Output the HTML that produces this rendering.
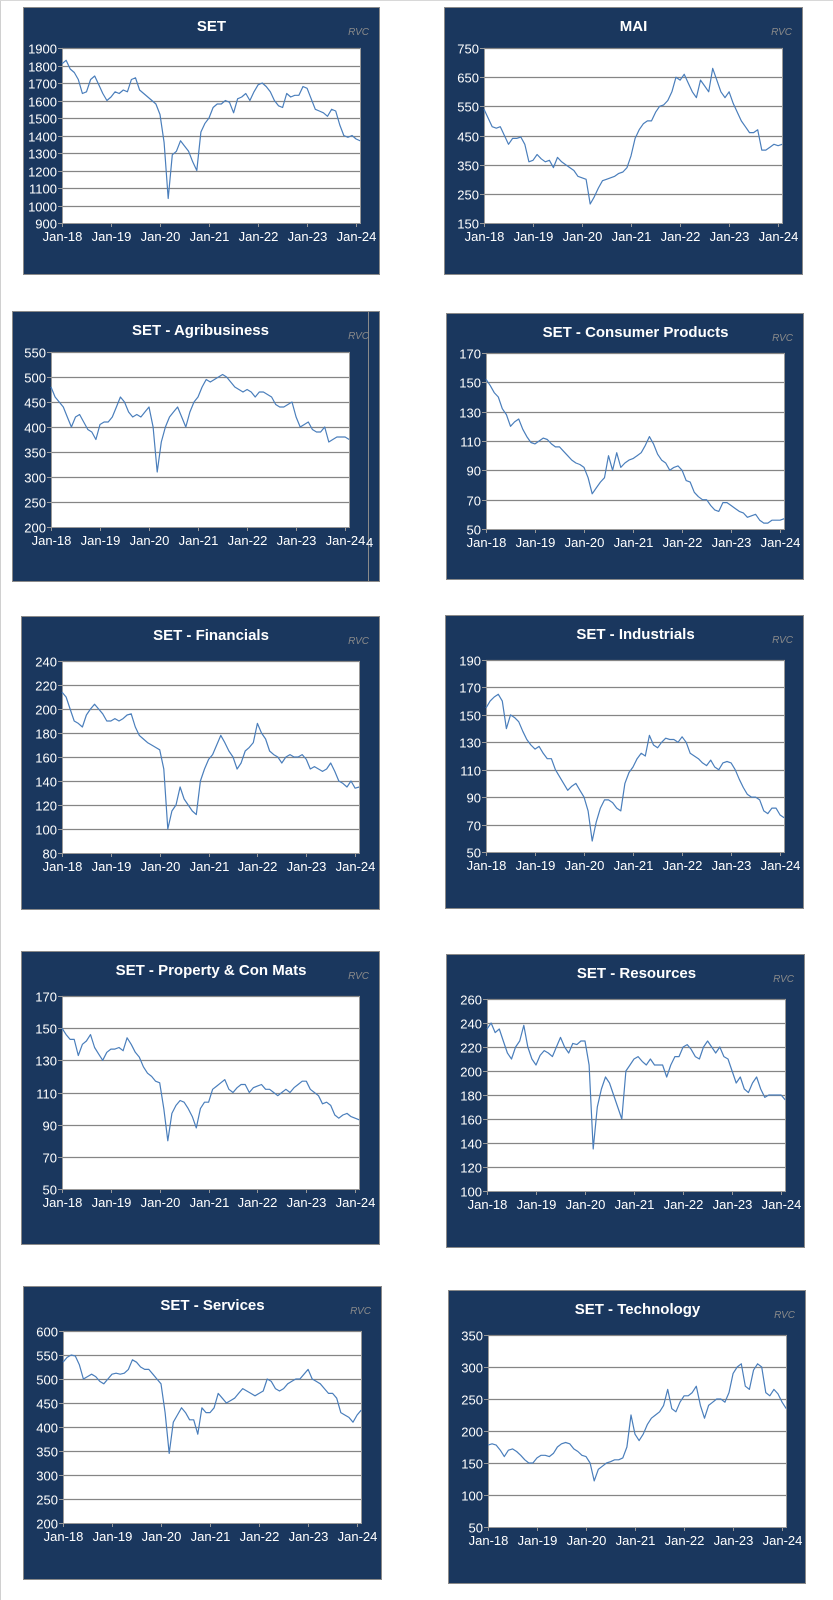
<!DOCTYPE html>
<html><head><meta charset="utf-8"><style>
html,body{margin:0;padding:0;background:#fff;}
svg{display:block;font-family:"Liberation Sans",Arial,sans-serif;}
</style></head><body>
<svg id="page" width="833" height="1600" viewBox="0 0 833 1600" xmlns="http://www.w3.org/2000/svg">
<rect x="0" y="0" width="833" height="1600" fill="#fff"/>
<line x1="0.5" y1="0" x2="0.5" y2="1600" stroke="#d0d0d0"/>
<line x1="0" y1="0.5" x2="833" y2="0.5" stroke="#d8d8d8"/>
</svg>
<script>
const xTickLabels = ['Jan-18','Jan-19','Jan-20','Jan-21','Jan-22','Jan-23','Jan-24'];
const xTickMonths = [0,12,24,36,48,60,72];
const setValues = [1810,1830,1780,1760,1720,1640,1650,1720,1740,1690,1640,1600,1620,1650,1640,1660,1650,1720,1730,1660,1640,1620,1600,1580,1520,1360,1040,1290,1310,1370,1340,1310,1250,1200,1420,1470,1500,1560,1580,1580,1600,1590,1530,1610,1620,1640,1600,1650,1690,1700,1680,1650,1600,1570,1560,1640,1620,1630,1630,1680,1670,1610,1550,1540,1530,1510,1550,1540,1460,1400,1390,1400,1380,1370];
const maiValues = [540,510,480,475,480,450,420,440,440,445,420,360,365,385,370,360,365,340,375,360,350,340,330,310,305,300,215,240,270,295,300,305,310,320,325,340,380,440,470,490,500,500,530,550,555,570,600,650,640,660,630,600,580,640,620,600,680,640,600,580,600,560,530,500,480,460,460,470,400,400,410,420,415,420];
const agriValues = [480,460,450,440,420,400,420,425,410,395,390,375,405,410,410,420,440,460,450,430,420,425,420,430,440,400,310,370,400,420,430,440,420,400,430,450,460,480,495,490,495,500,505,500,490,480,475,470,475,470,460,470,470,465,460,445,440,440,445,450,420,400,405,410,395,390,390,400,370,375,380,380,380,375];
const consumerValues = [152,148,143,140,132,128,120,123,125,118,113,109,108,110,112,111,108,106,106,103,100,97,95,94,92,85,74,78,82,85,100,90,102,92,95,97,98,100,102,107,113,108,101,97,95,90,92,93,90,83,82,75,72,70,70,66,63,62,68,68,66,64,62,61,58,59,60,56,54,54,56,56,56,57];
const finValues = [214,210,200,190,188,185,195,200,204,200,196,190,190,192,190,192,195,196,185,178,175,172,170,168,166,150,100,115,120,135,125,120,115,112,140,150,158,162,170,178,172,165,160,150,155,165,168,172,188,180,175,165,162,160,155,160,162,160,160,162,158,150,152,150,148,150,155,148,140,138,135,140,134,135];
const indValues = [155,160,163,165,160,140,150,148,145,138,132,128,125,127,122,118,118,110,105,100,95,98,100,95,90,80,58,72,82,88,88,86,82,80,100,108,112,118,122,120,135,128,126,130,133,132,132,130,134,130,122,120,118,115,113,117,112,110,115,116,115,110,103,97,92,90,90,88,80,78,82,82,77,75];
const propValues = [150,146,143,143,133,140,142,146,138,134,130,135,137,137,138,136,144,140,135,132,126,122,120,117,116,100,80,97,102,105,104,100,95,88,100,104,104,112,114,116,118,112,110,113,115,115,110,113,114,115,112,112,110,108,110,112,110,113,115,117,117,112,110,108,103,104,102,96,94,96,97,95,94,93];
const resValues = [235,240,232,235,225,215,210,220,225,238,220,210,205,213,217,215,212,220,228,220,215,223,222,225,225,205,135,170,185,195,190,180,170,160,200,205,210,212,208,205,210,205,205,205,195,205,212,212,220,222,218,212,210,220,225,220,215,220,212,210,200,190,195,185,182,190,195,185,178,180,180,180,180,176];
const servValues = [535,545,550,548,530,500,505,510,505,495,490,500,510,512,510,512,520,540,535,525,520,520,510,500,490,430,345,410,425,440,430,415,415,385,440,430,430,440,470,460,450,455,460,470,480,475,470,465,470,475,500,495,480,475,480,490,495,500,500,510,520,500,495,490,480,470,470,460,430,425,420,410,425,435];
const techValues = [178,180,178,170,160,170,172,168,162,155,150,150,158,162,162,160,165,175,180,182,180,172,168,162,160,150,122,140,145,150,152,155,155,158,175,225,195,185,195,210,220,225,230,240,265,235,230,245,255,255,260,270,240,220,240,245,250,250,245,260,290,300,305,270,265,295,305,300,260,255,265,258,245,235];

const panels = [
 {name:'set',title:'SET',box:[23,7,356,267],plot:[62,48,299,175],ymin:900,ymax:1900,step:100,vals:setValues},
 {name:'mai',title:'MAI',box:[444,7,358,267],plot:[484,48,299,175],ymin:150,ymax:750,step:100,vals:maiValues},
 {name:'agribusiness',title:'SET - Agribusiness',box:[12,311,367,270],plot:[51,352,299,175],ymin:200,ymax:550,step:50,vals:agriValues,extra:true},
 {name:'consumer-products',title:'SET - Consumer Products',box:[446,313,357,266],plot:[486,353,299,176],ymin:50,ymax:170,step:20,vals:consumerValues},
 {name:'financials',title:'SET - Financials',box:[21,616,358,293],plot:[62,661,298,192],ymin:80,ymax:240,step:20,vals:finValues},
 {name:'industrials',title:'SET - Industrials',box:[445,615,358,293],plot:[486,660,299,192],ymin:50,ymax:190,step:20,vals:indValues},
 {name:'property',title:'SET - Property & Con Mats',box:[21,951,358,293],plot:[62,996,298,193],ymin:50,ymax:170,step:20,vals:propValues},
 {name:'resources',title:'SET - Resources',box:[446,954,358,293],plot:[487,999,299,192],ymin:100,ymax:260,step:20,vals:resValues},
 {name:'services',title:'SET - Services',box:[23,1286,358,293],plot:[63,1331,299,192],ymin:200,ymax:600,step:50,vals:servValues},
 {name:'technology',title:'SET - Technology',box:[448,1290,357,293],plot:[488,1335,299,192],ymin:50,ymax:350,step:50,vals:techValues}
];
const NS='http://www.w3.org/2000/svg';
const svg=document.getElementById('page');
function mk(tag,attrs,parent){const e=document.createElementNS(NS,tag);for(const k in attrs)e.setAttribute(k,attrs[k]);parent.appendChild(e);return e;}
const XMAX=73.2;
panels.forEach(p=>{
  const g=mk('g',{},svg);
  
  
  const [bx,by,bw,bh]=p.box,[px,py,pw,ph]=p.plot;
  const bg=mk('rect',{x:bx+0.5,y:by+0.5,width:bw,height:bh,fill:'#1a375e',stroke:'#8a8a8a','stroke-width':1},g);
  
  
  if(p.extra){
    mk('line',{x1:368.5,y1:by,x2:368.5,y2:by+bh,stroke:'#8a8a8a'},g);
    const t4=mk('text',{x:366,y:py+ph+20,fill:'#fff','font-size':13},g);t4.textContent='4';
    
    
  }
  const t=mk('text',{x:px+pw/2,y:by+24,fill:'#fff','font-size':15,'font-weight':'bold','text-anchor':'middle'},g);
  t.textContent=p.title;
  
  
  const r=mk('text',{x:bx+bw-10,y:by+28,fill:'#8a8a8a','font-size':10,'font-style':'italic','text-anchor':'end'},g);
  r.textContent='RVC';
  
  
  mk('rect',{x:px,y:py,width:pw,height:ph,fill:'#fff'},g);
  const X=m=>px+m/XMAX*pw;
  const Y=v=>py+ph-(v-p.ymin)/(p.ymax-p.ymin)*ph;
  for(let v=p.ymin;v<=p.ymax+1e-9;v+=p.step){
    const y=Math.round(Y(v))+0.5;
    if(v>p.ymin){const gl=mk('line',{x1:px,y1:y,x2:px+pw,y2:y,stroke:'#858585','stroke-width':1.2},g);
      
      }
    mk('line',{x1:px-4,y1:y,x2:px,y2:y,stroke:'#999'},g);
    const yl=mk('text',{x:px-5,y:y+5,fill:'#fff','font-size':13,'text-anchor':'end'},g);
    yl.textContent=String(v);
    
    
  }
  mk('line',{x1:px+0.5,y1:py,x2:px+0.5,y2:py+ph,stroke:'#999'},g);
  mk('line',{x1:px,y1:py+ph+0.5,x2:px+pw,y2:py+ph+0.5,stroke:'#999'},g);
  mk('line',{x1:px+pw-0.5,y1:py,x2:px+pw-0.5,y2:py+ph,stroke:'#999'},g);
  xTickMonths.forEach((m,i)=>{
    const x=Math.round(X(m))+0.5;
    mk('line',{x1:x,y1:py+ph,x2:x,y2:py+ph+4,stroke:'#999'},g);
    const xl=mk('text',{x:x,y:py+ph+18,fill:'#fff','font-size':13,'text-anchor':'middle'},g);
    xl.textContent=xTickLabels[i];
    
    
  });
  const pts=p.vals.map((v,i)=>X(i).toFixed(1)+','+Y(v).toFixed(1)).join(' ');
  const pl=mk('polyline',{points:pts,fill:'none',stroke:'#4a7ebb','stroke-width':1.2,'stroke-linejoin':'round'},g);
  
  
});
</script>
</body></html>
